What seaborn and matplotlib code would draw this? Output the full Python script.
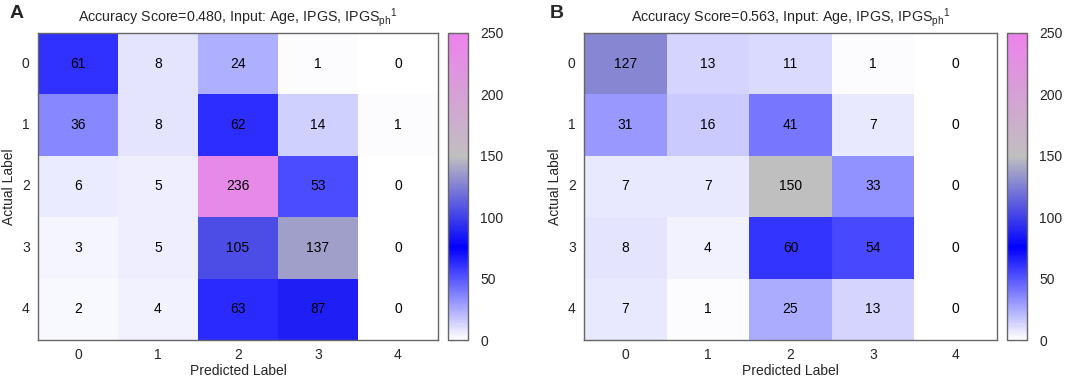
import numpy as np
import matplotlib
matplotlib.use("Agg")
import matplotlib.pyplot as plt
import seaborn as sns
from matplotlib.colors import LinearSegmentedColormap

sns.set_style("white")
plt.rcParams['font.family'] = ['Liberation Sans', 'DejaVu Sans']
plt.rcParams['mathtext.fontset'] = 'custom'
plt.rcParams['mathtext.rm'] = 'Liberation Sans'
plt.rcParams['mathtext.it'] = 'Liberation Sans:italic'

labels = ["0", "1", "2", "3", "4"]
cm_a = [[61, 8, 24, 1, 0],
        [36, 8, 62, 14, 1],
        [6, 5, 236, 53, 0],
        [3, 5, 105, 137, 0],
        [2, 4, 63, 87, 0]]
cm_b = [[127, 13, 11, 1, 0],
        [31, 16, 41, 7, 0],
        [7, 7, 150, 33, 0],
        [8, 4, 60, 54, 0],
        [7, 1, 25, 13, 0]]
titles = ["Accuracy Score=0.480, Input: Age, IPGS, IPGS$_{\\mathrm{ph}}$$^{1}$",
          "Accuracy Score=0.563, Input: Age, IPGS, IPGS$_{\\mathrm{ph}}$$^{1}$"]
panels = ["A", "B"]

cmap = LinearSegmentedColormap.from_list(
    "gp", [(0.0, (1, 1, 1)), (0.3, (0, 0, 1)), (0.6, (0.75, 0.75, 0.75)),
           (1.0, (0.93, 0.51, 0.93))])

W, H = 1065, 377
fig = plt.figure(figsize=(W / 100, H / 100), dpi=100)

layout = [((38, 438), (448, 468)), ((584, 997), (1007, 1027))]
top, bot = 33, 340

for i, (cm, title, pl) in enumerate(zip([cm_a, cm_b], titles, panels)):
    (hx0, hx1), (cx0, cx1) = layout[i]
    ax = fig.add_axes([hx0 / W, (H - bot) / H, (hx1 - hx0) / W, (bot - top) / H])
    cax = fig.add_axes([cx0 / W, (H - bot) / H, (cx1 - cx0) / W, (bot - top) / H])
    sns.heatmap(np.array(cm), ax=ax, cbar_ax=cax, cmap=cmap, vmin=0, vmax=250,
                annot=True, fmt="d", annot_kws={"fontsize": 10, "color": "black"},
                xticklabels=labels, yticklabels=labels, linewidths=0)
    for s in ax.spines.values():
        s.set_visible(True)
        s.set_color("#666666")
        s.set_linewidth(1.0)
    ax.tick_params(axis="both", length=0, labelsize=10, pad=6)
    ax.set_yticklabels(labels, rotation=0)
    ax.set_xlabel("Predicted Label", fontsize=10, labelpad=1)
    ax.set_ylabel("Actual Label", fontsize=10, labelpad=4)
    ax.set_title(title, fontsize=10.3, pad=8)
    fig.text(10 / W if i == 0 else 550 / W, 1 - 14 / H, pl, fontsize=14,
             fontweight="bold", va="center", ha="left")
    cax.set_yticks([0, 50, 100, 150, 200, 250])
    cax.tick_params(axis="y", direction="in", length=4, width=0.8, color="#555555",
                    labelsize=10, left=True, right=True, pad=9)
    cb = ax.collections[0].colorbar
    cb.outline.set_edgecolor("#666666")
    cb.outline.set_linewidth(1.0)

fig.savefig("out.png", dpi=100)
